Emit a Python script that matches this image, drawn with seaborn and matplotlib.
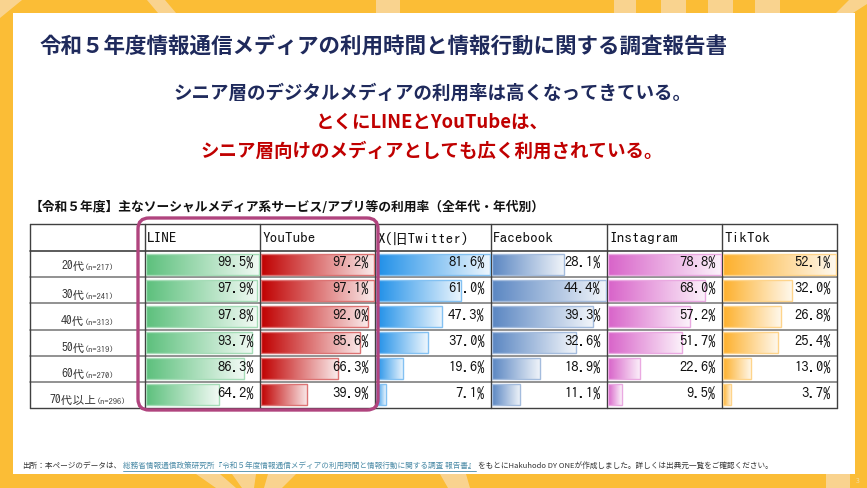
import numpy as np
import pandas as pd
import matplotlib
matplotlib.use("Agg")
import matplotlib.pyplot as plt
import seaborn as sns
from matplotlib.colors import LinearSegmentedColormap, to_rgb
from matplotlib.patches import FancyBboxPatch, Polygon, Rectangle

sns.set_theme(style="white")
plt.rcParams['font.family'] = ['Noto Sans CJK JP', 'DejaVu Sans']
GOTHIC = ['IPAGothic', 'Noto Sans CJK JP', 'DejaVu Sans']

# data
ages = ["20代", "30代", "40代", "50代", "60代", "70代以上"]
sample_n = ["(n=217)", "(n=241)", "(n=313)", "(n=319)", "(n=270)", "(n=296)"]
services = ["LINE", "YouTube", "X(旧Twitter)", "Facebook", "Instagram", "TikTok"]
line_vals = [99.5, 97.9, 97.8, 93.7, 86.3, 64.2]
youtube_vals = [97.2, 97.1, 92.0, 85.6, 66.3, 39.9]
x_vals = [81.6, 61.0, 47.3, 37.0, 19.6, 7.1]
facebook_vals = [28.1, 44.4, 39.3, 32.6, 18.9, 11.1]
instagram_vals = [78.8, 68.0, 57.2, 51.7, 22.6, 9.5]
tiktok_vals = [52.1, 32.0, 26.8, 25.4, 13.0, 3.7]
all_vals = [line_vals, youtube_vals, x_vals, facebook_vals, instagram_vals, tiktok_vals]
bar_colors = ["#5cc07c", "#c00000", "#1e8fe8", "#5a86c2", "#d863c9", "#fdb02c"]

W, H = 867, 488
fig = plt.figure(figsize=(W / 100, H / 100), dpi=100)
fig.patch.set_facecolor("#fbbd36")

# background layer in pixel coords
bg = fig.add_axes([0, 0, 1, 1], zorder=0)
bg.set_xlim(0, W)
bg.set_ylim(H, 0)
bg.axis("off")

light = "#f9d8a0"
stripes = [
    [(0, 0), (22, 0), (0, 18)],
    [(147, 0), (165, 0), (176, 13), (158, 13)],
    [(376, 0), (400, 0), (400, 13), (376, 13)],
    [(614, 0), (636, 0), (636, 13), (614, 13)],
    [(661, 0), (686, 0), (686, 13), (661, 13)],
    [(708, 0), (733, 0), (733, 13), (708, 13)],
    [(755, 0), (780, 0), (780, 13), (755, 13)],
    [(849, 0), (867, 0), (867, 4), (853, 13), (836, 13)],
    [(196, 474), (220, 474), (236, 488), (216, 488)],
    [(268, 474), (296, 474), (282, 488), (264, 488)],
    [(232, 474), (256, 474), (254, 488), (242, 488)],
    [(440, 474), (466, 474), (470, 488), (448, 488)],
    [(826, 474), (850, 474), (850, 488), (826, 488)],
]
for pts in stripes:
    bg.add_patch(Polygon(pts, closed=True, fc=light, ec="none", alpha=0.85))

bg.add_patch(Rectangle((13, 13), 842, 461, fc="white", ec="none"))

# table geometry
left = 30
col_edges = [145, 260, 375, 491, 607, 722, 837]
head_top, row_top, row_bot = 224, 251, 408
row_h = (row_bot - row_top) / len(ages)

for k in range(1, len(ages)):
    y = row_top + k * row_h
    bg.plot([left, col_edges[-1]], [y, y], color="#7f7f7f", lw=1.2, zorder=3)
bg.plot([left, col_edges[-1]], [head_top, head_top], color="#404040", lw=1.0, zorder=3)
bg.plot([left, col_edges[-1]], [row_top, row_top], color="#404040", lw=1.2, zorder=3)
bg.plot([left, col_edges[-1]], [row_bot, row_bot], color="#404040", lw=1.0, zorder=3)
for x in [left] + col_edges:
    bg.plot([x, x], [head_top, row_bot], color="#404040", lw=1.0, zorder=3)

for name, c0 in zip(services, col_edges[:-1]):
    bg.text(c0 + 2, (head_top + row_top) / 2 + 1, name, ha="left", va="center",
            fontsize=11, family=GOTHIC, color="#111111", zorder=4)

# bars: one axes per service column
for i, (vals, col) in enumerate(zip(all_vals, bar_colors)):
    c0, c1 = col_edges[i], col_edges[i + 1]
    ax = fig.add_axes([(c0 + 1) / W, 1 - row_bot / H, (c1 - c0 - 1) / W, (row_bot - row_top) / H],
                      zorder=1)
    df = pd.DataFrame({"age": ages, "value": vals})
    sns.barplot(data=df, x="value", y="age", orient="h", color=col, width=0.8, ax=ax)
    ylim = ax.get_ylim()
    rgb = np.array(to_rgb(col))
    end = rgb + (1 - rgb) * 0.92
    cmap = LinearSegmentedColormap.from_list("g", [rgb, end])
    edge = rgb + (1 - rgb) * 0.45
    grad = np.linspace(0, 1, 256).reshape(1, -1)
    for p in ax.patches:
        x, y, w, h = p.get_x(), p.get_y(), p.get_width(), p.get_height()
        im = ax.imshow(grad, extent=[x, x + w, y + h, y], aspect="auto", cmap=cmap,
                       interpolation="bilinear", zorder=1)
        im.set_clip_path(p)
        p.set_facecolor("none")
        p.set_edgecolor(edge)
        p.set_linewidth(1.0)
        p.set_zorder(2)
    ax.set_xlim(0, max(vals) * 1.01)
    ax.set_ylim(ylim)
    for j, v in enumerate(vals):
        ax.text(0.945, j - 0.06, f"{v:.1f}%", transform=ax.get_yaxis_transform(),
                ha="right", va="center", fontsize=10.5, family=GOTHIC, color="#111111", zorder=3)
    ax.axis("off")
    ax.patch.set_alpha(0)

# foreground layer
fg = fig.add_axes([0, 0, 1, 1], zorder=2)
fg.set_xlim(0, W)
fg.set_ylim(H, 0)
fg.axis("off")
fg.patch.set_alpha(0)

fg.add_patch(FancyBboxPatch((138, 218), 240, 192, boxstyle="round,pad=0,rounding_size=11",
                            fill=False, ec="#b0447e", lw=2.4))

navy = "#1f2a5c"
red = "#c00000"
fg.text(40, 47, "令和５年度情報通信メディアの利用時間と情報行動に関する調査報告書",
        ha="left", va="center", fontsize=15.5, fontweight="bold", color=navy)
fg.text(432, 93, "シニア層のデジタルメディアの利用率は高くなってきている。",
        ha="center", va="center", fontsize=13.3, fontweight="bold", color=navy)
fg.text(432, 122, "とくにLINEとYouTubeは、",
        ha="center", va="center", fontsize=13.3, fontweight="bold", color=red)
fg.text(432, 151, "シニア層向けのメディアとしても広く利用されている。",
        ha="center", va="center", fontsize=13.3, fontweight="bold", color=red)
fg.text(30, 207, "【令和５年度】主なソーシャルメディア系サービス/アプリ等の利用率（全年代・年代別）",
        ha="left", va="center", fontsize=9.2, fontweight="bold", color="#111111")

renderer = fig.canvas.get_renderer()
inv = fg.transData.inverted()


def width_px(t):
    bb = t.get_window_extent(renderer)
    return inv.transform((bb.x1, bb.y0))[0] - inv.transform((bb.x0, bb.y0))[0]


# row labels
for k, (age, n) in enumerate(zip(ages, sample_n)):
    yb = row_top + (k + 0.5) * row_h + (6 if k == 0 else 9)
    ta = fg.text(0, yb, age, ha="left", va="baseline", fontsize=8.5, family=GOTHIC, color="#333333")
    tn = fg.text(0, yb, n, ha="left", va="baseline", fontsize=6, family=GOTHIC, color="#333333")
    wa, wn = width_px(ta), width_px(tn)
    x0 = (left + col_edges[0]) / 2 - (wa + wn) / 2
    ta.set_x(x0)
    tn.set_x(x0 + wa)

# footer
parts = [
    ("出所：本ページのデータは、", "#333333", False),
    ("総務省情報通信政策研究所『令和５年度情報通信メディアの利用時間と情報行動に関する調査 報告書』", "#4a8aa6", True),
    ("をもとにHakuhodo DY ONEが作成しました。詳しくは出典元一覧をご確認ください。", "#333333", False),
]
xf = 22
for txt, c, under in parts:
    t = fg.text(xf, 466, txt, ha="left", va="center", fontsize=5.5, color=c)
    w = width_px(t)
    if under:
        fg.plot([xf, xf + w], [470.5, 470.5], color=c, lw=0.6)
    xf += w + 2

fg.text(858, 481, "3", ha="center", va="center", fontsize=5, color="#f3dca8")

fig.savefig("out.png", dpi=100)
